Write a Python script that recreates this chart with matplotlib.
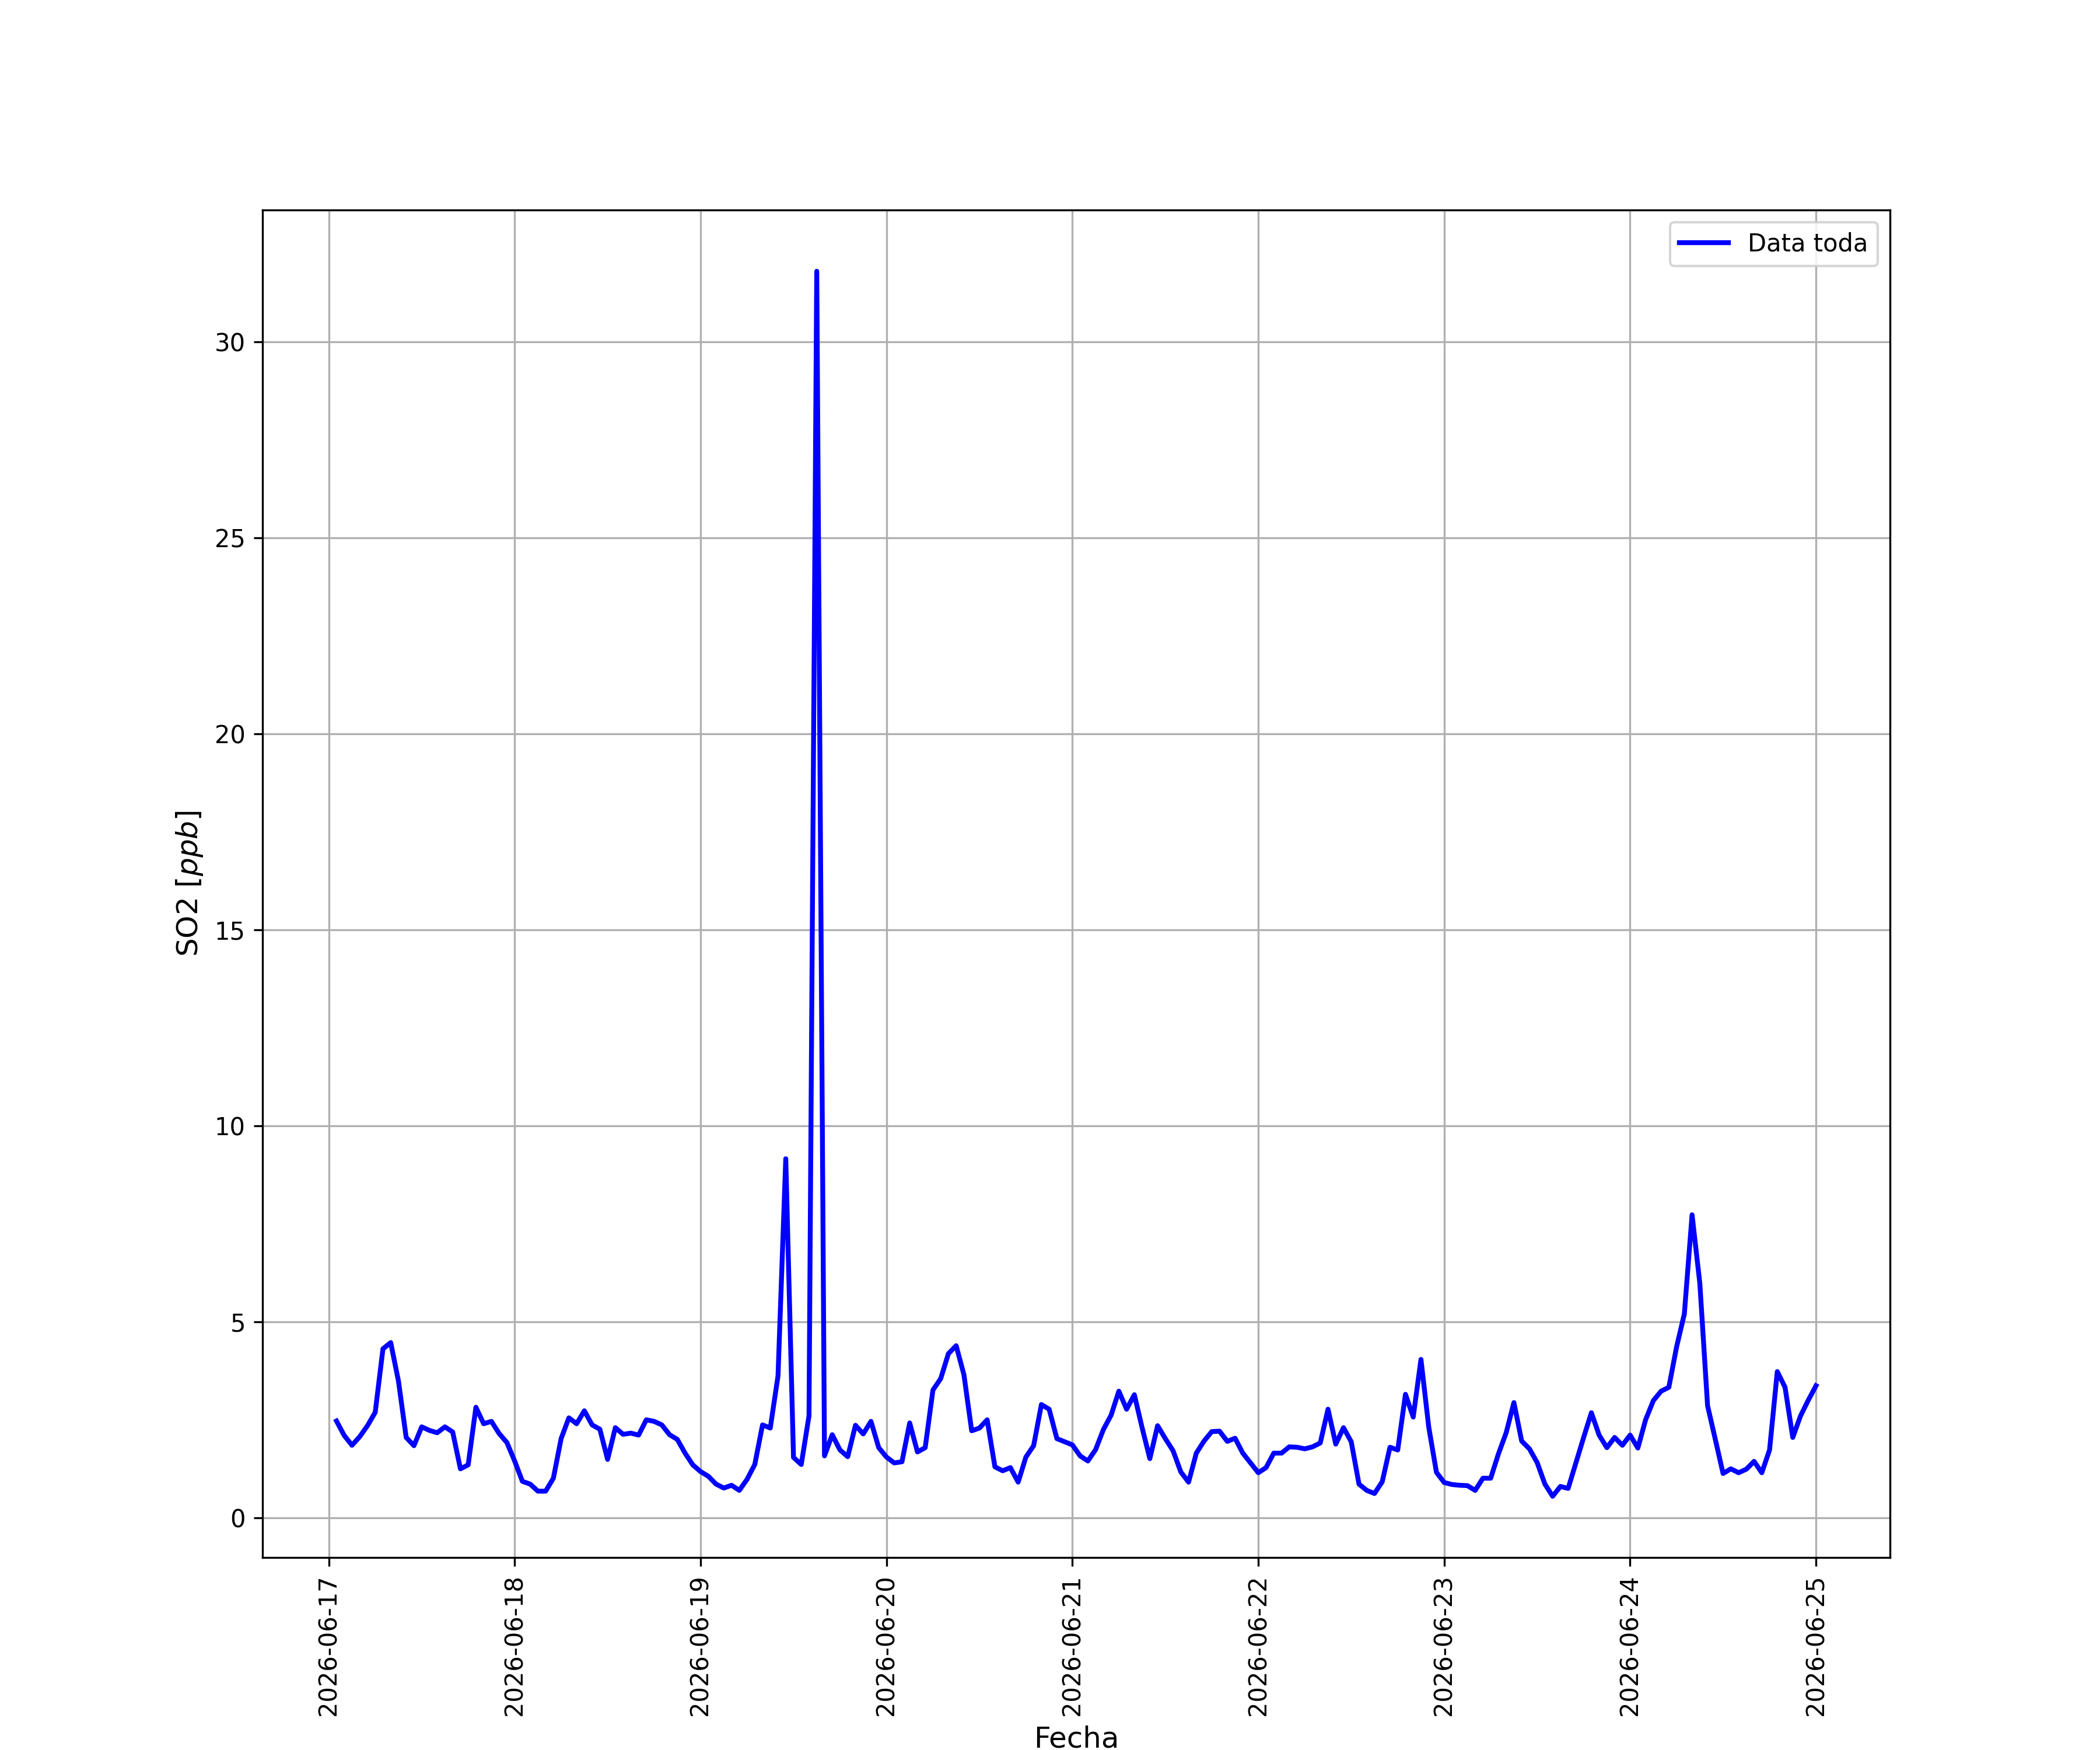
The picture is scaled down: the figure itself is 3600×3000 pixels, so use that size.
import numpy as np
import pandas as pd
import matplotlib
matplotlib.use("Agg")
import matplotlib.pyplot as plt
import matplotlib.dates as mdates

# hourly SO2, 2026-06-17 01:00 .. 2026-06-25 00:00
so2_d17 = [2.47, 2.10, 1.85, 2.07, 2.35, 2.69, 4.31, 4.47, 3.49, 2.05, 1.84, 2.32,
           2.23, 2.17, 2.32, 2.19, 1.25, 1.35, 2.82, 2.40, 2.46, 2.15, 1.92]
so2_d18 = [1.45, 0.93, 0.86, 0.68, 0.68, 1.01, 2.02, 2.55, 2.40, 2.73, 2.37, 2.26,
           1.49, 2.30, 2.13, 2.16, 2.11, 2.50, 2.46, 2.37, 2.12, 2.00, 1.65, 1.35]
so2_d19 = [1.18, 1.06, 0.86, 0.76, 0.83, 0.70, 0.98, 1.36, 2.37, 2.29, 3.62, 9.16,
           1.54, 1.36, 2.60, 31.8, 1.58, 2.12, 1.73, 1.56, 2.36, 2.14, 2.46, 1.79]
so2_d20 = [1.55, 1.40, 1.43, 2.42, 1.68, 1.79, 3.26, 3.55, 4.19, 4.39, 3.65, 2.22,
           2.29, 2.50, 1.30, 1.20, 1.28, 0.91, 1.55, 1.84, 2.89, 2.77, 2.02, 1.94]
so2_d21 = [1.86, 1.58, 1.45, 1.74, 2.25, 2.62, 3.23, 2.77, 3.14, 2.30, 1.51, 2.35,
           2.02, 1.71, 1.17, 0.91, 1.65, 1.96, 2.20, 2.21, 1.95, 2.03, 1.65, 1.40]
so2_d22 = [1.15, 1.28, 1.65, 1.65, 1.81, 1.80, 1.76, 1.81, 1.91, 2.77, 1.88, 2.30,
           1.94, 0.86, 0.70, 0.62, 0.92, 1.80, 1.73, 3.15, 2.57, 4.04, 2.32, 1.16]
so2_d23 = [0.90, 0.85, 0.83, 0.82, 0.70, 1.01, 1.01, 1.63, 2.17, 2.94, 1.96, 1.76,
           1.41, 0.86, 0.55, 0.80, 0.75, 1.40, 2.05, 2.68, 2.11, 1.79, 2.05, 1.85]
so2_d24 = [2.11, 1.78, 2.50, 2.99, 3.23, 3.33, 4.36, 5.20, 7.73, 5.98, 2.86, 2.00,
           1.13, 1.25, 1.15, 1.24, 1.44, 1.15, 1.73, 3.73, 3.33, 2.05, 2.60, 3.00]
so2_d25 = [3.37]

so2 = so2_d17 + so2_d18 + so2_d19 + so2_d20 + so2_d21 + so2_d22 + so2_d23 + so2_d24 + so2_d25
fechas = pd.date_range("2026-06-17 01:00", periods=len(so2), freq="h")

fig = plt.figure(figsize=(12, 10), dpi=300)
ax = fig.add_subplot(111)
ax.plot(fechas, so2, color="blue", linewidth=2, label="Data toda")
ax.xaxis.set_major_locator(mdates.DayLocator())
ax.xaxis.set_major_formatter(mdates.DateFormatter("%Y-%m-%d"))
plt.xticks(rotation=90)
ax.set_xlabel("Fecha", fontsize=12)
ax.set_ylabel("SO2 [$ppb$]", fontsize=12)
ax.grid(True)
ax.legend(loc="upper right")
fig.savefig("out.png", dpi=300)
